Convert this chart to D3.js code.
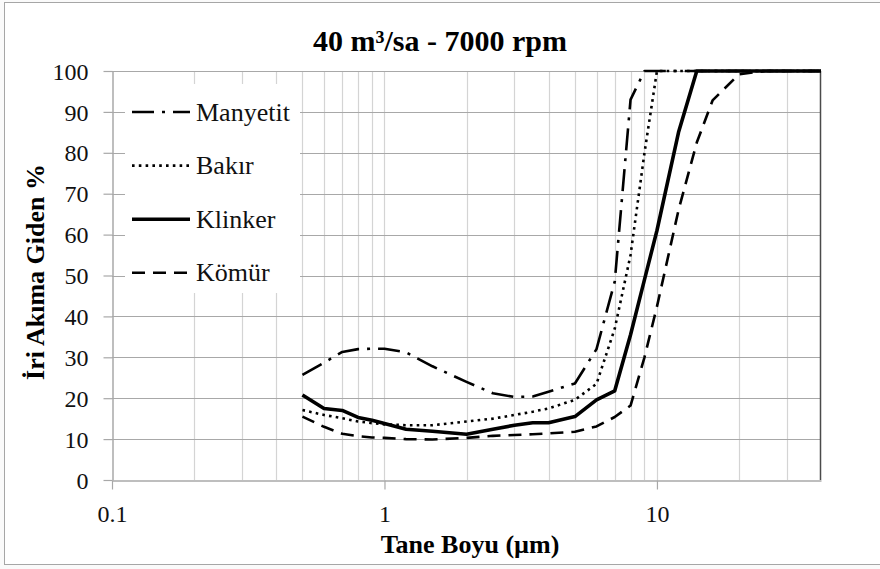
<!DOCTYPE html>
<html><head><meta charset="utf-8">
<script src="https://cdn.jsdelivr.net/npm/d3@7/dist/d3.min.js"></script>
<style>
body{margin:0;background:#fff}
svg{display:block}
</style>
</head><body>
<svg id="chart" width="880" height="569"></svg>
<script>
// ---- data ----
const title = "40 m\u00b3/sa - 7000 rpm";
const xTitle = "Tane Boyu (\u00b5m)";
const yTitle = "\u0130ri Ak\u0131ma Giden %";
const xTickValues = [0.1, 1, 10];
const xTickLabels = ["0.1", "1", "10"];
const yTickValues = [0, 10, 20, 30, 40, 50, 60, 70, 80, 90, 100];
const seriesNames = ["Manyetit", "Bak\u0131r", "Klinker", "K\u00f6m\u00fcr"];
const sizes    = [0.5, 0.6, 0.7, 0.8, 0.9, 1, 1.2, 1.5, 2, 2.5, 3, 3.5, 4, 5, 6, 7, 8, 9, 10, 12, 14, 16, 20, 25, 30, 40];
const manyetit = [25.7, 28.7, 31.3, 32.0, 32.1, 32.1, 31.2, 27.8, 24.0, 21.2, 20.3, 20.4, 21.6, 23.6, 32, 48.5, 93, 100, 100, 100, 100, 100, 100, 100, 100, 100];
const bakir    = [17.1, 15.9, 15.1, 14.3, 13.9, 13.6, 13.4, 13.4, 14.3, 15.0, 15.9, 16.7, 17.5, 19.6, 23.5, 37, 55, 80, 100, 100, 100, 100, 100, 100, 100, 100];
const klinker  = [20.8, 17.5, 17.0, 15.3, 14.6, 13.8, 12.4, 11.9, 11.2, 12.4, 13.4, 14.0, 14.0, 15.5, 19.6, 21.8, 35.5, 49, 61, 85, 100, 100, 100, 100, 100, 100];
const komur    = [15.5, 13.0, 11.3, 10.7, 10.4, 10.3, 10.0, 9.9, 10.3, 10.8, 11.0, 11.2, 11.4, 11.8, 13.1, 15.4, 18.2, 30, 42.4, 66, 82.5, 92.8, 99.2, 100, 100, 100];

// ---- styles ----
const FONT = '"Liberation Serif","Times New Roman",serif';
const styles = [
  {dash: "22,8,3,8", width: 2.6},
  {dash: "2.6,4.2", width: 2.6},
  {dash: null, width: 3.6},
  {dash: "13,8", width: 2.6}
];
const seriesValues = [manyetit, bakir, klinker, komur];

const svg = d3.select("#chart");
const L = 112, R = 821, T = 71, B = 480;
const x = d3.scaleLog().domain([0.1, 40]).range([L, R]);
const y = d3.scaleLinear().domain([0, 100]).range([B, T]);

// outer frame
svg.append("rect").attr("x", 0).attr("y", 0).attr("width", 880).attr("height", 569).attr("fill", "#fafafa");
svg.append("rect").attr("x", 4.5).attr("y", 2.5).attr("width", 880).attr("height", 562)
  .attr("fill", "#fff").attr("stroke", "#a6a6a6").attr("stroke-width", 1);

// vertical minor gridlines
const vGrid = [];
[0.1, 1, 10].forEach(d => { for (let k = 1; k <= 9; k++) { const v = +(k * d).toPrecision(3); if (v > 0.1 && v < 40) vGrid.push(v); } });
svg.append("g").selectAll("line").data(vGrid).join("line")
  .attr("x1", d => Math.round(x(d)) + 0.5).attr("x2", d => Math.round(x(d)) + 0.5)
  .attr("y1", T).attr("y2", B).attr("stroke", "#d4d4d4").attr("stroke-width", 1.2);

// horizontal gridlines
svg.append("g").selectAll("line").data(yTickValues.filter(v => v > 0)).join("line")
  .attr("x1", L).attr("x2", R).attr("y1", d => Math.round(y(d)) + 0.5).attr("y2", d => Math.round(y(d)) + 0.5)
  .attr("stroke", "#a8a8a8").attr("stroke-width", 1.2);

// right border
svg.append("line").attr("x1", R - 0.5).attr("x2", R - 0.5).attr("y1", T).attr("y2", B)
  .attr("stroke", "#4a4a4a").attr("stroke-width", 1.5);

// axes
const yAxis = d3.axisLeft(y).tickValues(yTickValues).tickSize(9).tickSizeOuter(0).tickPadding(15).tickFormat(d3.format("d"));
const gy = svg.append("g").attr("transform", `translate(${L + 0.5},0)`).call(yAxis);
gy.select(".domain").attr("stroke", "#a8a8a8").attr("stroke-width", 1.5);
gy.selectAll(".tick line").attr("stroke", "#a8a8a8").attr("stroke-width", 1.2);
gy.selectAll(".tick text").attr("dy", "0.34em");

const xAxis = d3.axisBottom(x).tickValues(xTickValues).tickSize(9).tickSizeOuter(0).tickPadding(24)
  .tickFormat((d, i) => xTickLabels[i]);
const gx = svg.append("g").attr("transform", `translate(0,${B + 0.5})`).call(xAxis);
gx.select(".domain").attr("stroke", "#a8a8a8").attr("stroke-width", 1.5);
gx.selectAll(".tick line").attr("stroke", "#a8a8a8").attr("stroke-width", 1.2);
gx.selectAll(".tick text").attr("dy", "0.34em");
svg.selectAll(".tick text").style("font-family", FONT).style("font-size", "24px").attr("fill", "#111");

// data lines
const line = d3.line().x(d => x(d[0])).y(d => y(d[1]));
seriesValues.forEach((vals, i) => {
  const pts = sizes.map((s, j) => [s, vals[j]]);
  svg.append("path").datum(pts).attr("d", line)
    .attr("fill", "none").attr("stroke", "#000").attr("stroke-width", styles[i].width)
    .attr("stroke-linejoin", "round")
    .attr("stroke-dasharray", styles[i].dash);
});

// legend
svg.append("rect").attr("x", 125).attr("y", 84).attr("width", 175).attr("height", 209).attr("fill", "#fff");
const lg = svg.append("g");
seriesNames.forEach((name, i) => {
  const cy = 112 + i * 53.6;
  lg.append("line").attr("x1", 132).attr("x2", 190).attr("y1", cy).attr("y2", cy)
    .attr("stroke", "#000").attr("stroke-width", styles[i].width).attr("stroke-dasharray", styles[i].dash);
  lg.append("text").attr("x", 196).attr("y", cy + 8.5)
    .style("font-family", FONT).style("font-size", "26px").attr("fill", "#111").text(name);
});

// titles
svg.append("text").attr("x", 440).attr("y", 51).attr("text-anchor", "middle")
  .style("font-family", FONT).style("font-size", "30px").style("font-weight", "bold").text(title);
svg.append("text").attr("x", 470).attr("y", 553).attr("text-anchor", "middle")
  .style("font-family", FONT).style("font-size", "26px").style("font-weight", "bold").text(xTitle);
svg.append("text").attr("transform", "translate(44,272) rotate(-90)").attr("text-anchor", "middle")
  .style("font-family", FONT).style("font-size", "26px").style("font-weight", "bold").text(yTitle);
</script>
</body></html>
